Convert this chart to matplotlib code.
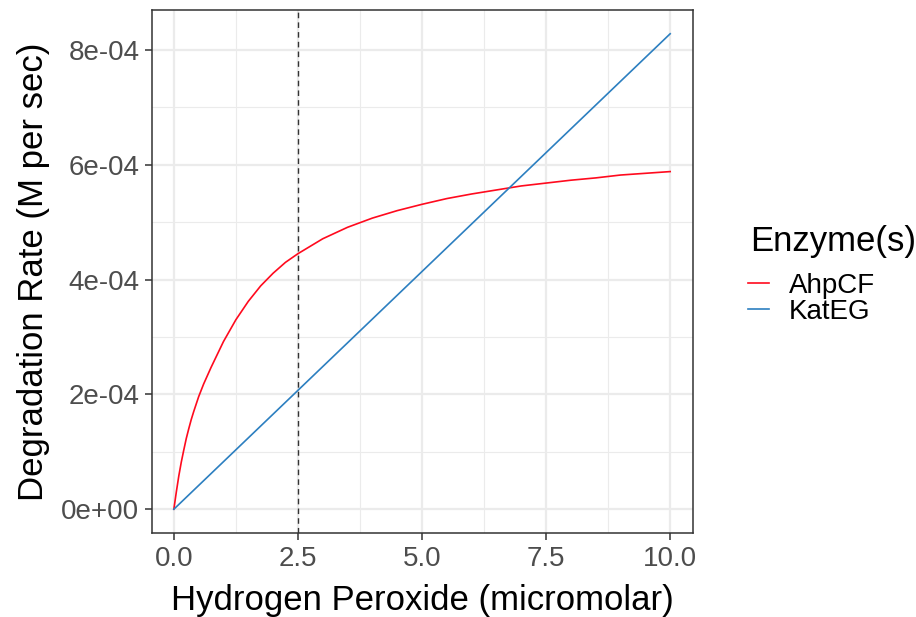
import matplotlib.pyplot as plt
import numpy as np

plt.rcParams['font.family'] = ['Liberation Sans', 'DejaVu Sans']

# values (rate in units of 1e-4 M per sec)
h2o2 = [0, 0.05, 0.1, 0.15, 0.2, 0.25, 0.3, 0.35, 0.4, 0.5, 0.6, 0.75, 0.8,
        1, 1.25, 1.5, 1.75, 2, 2.25, 2.5, 3, 3.5, 4, 4.5, 5, 5.5, 6, 6.5,
        7, 7.5, 8, 8.5, 9, 9.5, 10]
ahpcf = [0, 0.30, 0.58, 0.82, 1.03, 1.23, 1.40, 1.56, 1.70, 1.96, 2.18,
         2.47, 2.56, 2.92, 3.30, 3.62, 3.89, 4.11, 4.30, 4.45, 4.71, 4.91,
         5.07, 5.20, 5.31, 5.41, 5.49, 5.56, 5.63, 5.68, 5.73, 5.77, 5.82,
         5.85, 5.88]
ahpcf = [v * 1e-4 for v in ahpcf]
kateg_x = [0, 10]
kateg = [0, 8.28e-4]
vline_x = 2.5

fig = plt.figure(figsize=(9.16, 6.17), dpi=100)
ax = fig.add_axes([152/916, 1 - 533/617, (693-152)/916, (533-10)/617])

grid_col = '#EBEBEB'
xmaj = [0, 2.5, 5, 7.5, 10]
xmin = [1.25, 3.75, 6.25, 8.75]
ymaj = [0, 2e-4, 4e-4, 6e-4, 8e-4]
ymin = [1e-4, 3e-4, 5e-4, 7e-4]
for v in xmin:
    ax.axvline(v, color=grid_col, lw=0.8, zorder=0)
for v in ymin:
    ax.axhline(v, color=grid_col, lw=0.8, zorder=0)
for v in xmaj:
    ax.axvline(v, color=grid_col, lw=1.6, zorder=0)
for v in ymaj:
    ax.axhline(v, color=grid_col, lw=1.6, zorder=0)

ax.plot(h2o2, ahpcf, color='#FF0A1E', lw=1.2, label='AhpCF')
ax.plot(kateg_x, kateg, color='#2C7FC0', lw=1.2, label='KatEG')
ax.axvline(vline_x, color='#333333', lw=1.0, ls=(0, (4, 3)))

ax.set_xlim(-0.44, 10.46)
ax.set_ylim(-0.414e-4, 8.694e-4)
ax.set_xticks(xmaj)
ax.set_xticklabels(['0.0', '2.5', '5.0', '7.5', '10.0'])
ax.set_yticks(ymaj)
ax.set_yticklabels(['0e+00', '2e-04', '4e-04', '6e-04', '8e-04'])
ax.tick_params(labelsize=20, labelcolor='#4D4D4D', color='#333333',
               length=5, width=1.1, pad=4)
for s in ax.spines.values():
    s.set_color('#333333')
    s.set_linewidth(1.1)

ax.set_xlabel('Hydrogen Peroxide (micromolar)', fontsize=25, labelpad=9)
ax.set_ylabel('Degradation Rate (M per sec)', fontsize=25, labelpad=8)

fig.text(750/916, 1 - 251/617, 'Enzyme(s)', fontsize=25, va='baseline', ha='left')
leg = ax.legend(loc='upper left', bbox_to_anchor=(748/916, 1 - 273/617),
                bbox_transform=fig.transFigure, frameon=False, fontsize=20,
                handlelength=0.75, handletextpad=0.72, labelspacing=0.0,
                borderpad=0, borderaxespad=0)

fig.savefig('out.png', dpi=100)
